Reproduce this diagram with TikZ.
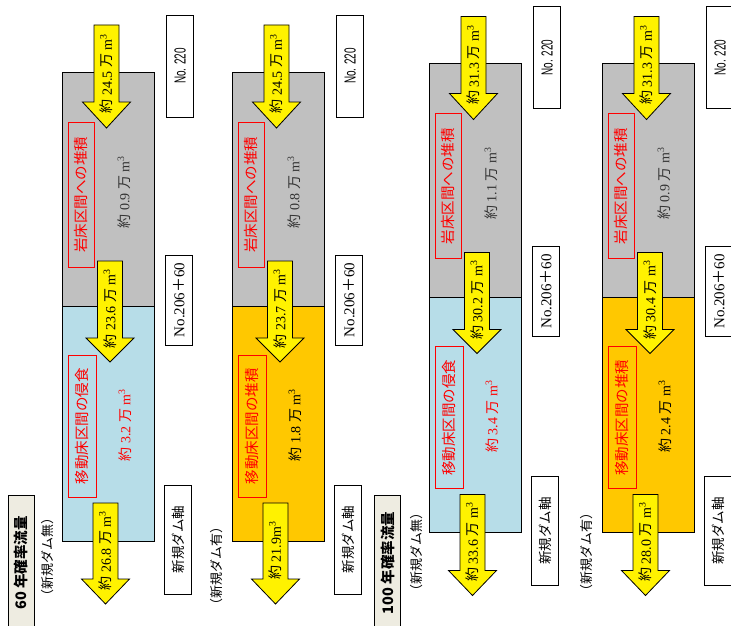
\documentclass[tikz,border=0pt]{standalone}
\usepackage{fontspec}
\usepackage{graphicx}
\setmainfont{Liberation Serif}
\setsansfont{Liberation Sans}
\newfontfamily\jp{Noto Sans CJK JP}
\usetikzlibrary{positioning}

\definecolor{rockgray}{HTML}{C0C0C0}
\definecolor{bedblue}{HTML}{B7DDE8}
\definecolor{bedgold}{HTML}{FFC800}
\definecolor{labelbg}{HTML}{EEECE1}

% volume text: 約 x 万 m3
\newcommand\man[1]{{\jp 約} #1 {\jp 万} m\textsuperscript{3}}
% arrow: name, centre x, top, head start, tip, text
\newcommand\flowarrow[6]{%
  \filldraw[fill=yellow,draw=black,line width=0.8pt]
    (#2-12.5,#3) -- (#2+12.5,#3) -- (#2+12.5,#4) -- (#2+24,#4) -- (#2,#5)
    -- (#2-24,#4) -- (#2-12.5,#4) -- cycle;
  \node[vol] (#1) at (#2,{(#3+#5)/2-3}) {#6};}

\begin{document}
\begin{tikzpicture}[x=1pt,y=-1pt,
  vol/.style={rotate=90,inner sep=0pt,font=\fontsize{14}{14}\selectfont},
  redbox/.style={rotate=90,draw=red,line width=1pt,text=red,inner sep=0pt,
    font=\jp\fontsize{14.5}{14.5}\selectfont},
  tag/.style={rotate=90,draw=black,fill=white,inner sep=0pt,minimum height=27pt},
  head/.style={rotate=90,draw=black,fill=labelbg,inner sep=0pt,
    minimum width=136pt,minimum height=26pt,font=\jp\bfseries\fontsize{14.5}{14.5}\selectfont},
  case/.style={rotate=90,inner sep=0pt,font=\jp\fontsize{13}{13}\selectfont},
  bed/.style={draw=black,line width=0.8pt}]
\useasboundingbox (0,0) rectangle (731,626);
\clip (0,0) rectangle (731,626);

\foreach \p/\sx/\sy/\bedcol/\bedtxt/\volcol/\vu/\vd/\qin/\qmid/\qout in {
    A/0/0/bedblue/移動床区間の侵食/red/0.9/3.2/24.5/23.6/{\man{26.8}},
    B/170/0/bedgold/移動床区間の堆積/black/0.8/1.8/24.5/23.7/{{\jp 約} 21.9m\textsuperscript{3}},
    C/367/-8.5/bedblue/移動床区間の侵食/red/1.1/3.4/31.3/30.2/{\man{33.6}},
    D/540/-8.5/bedgold/移動床区間の堆積/black/0.9/2.4/31.3/30.4/{\man{28.0}}}{
  \begin{scope}[shift={(\sx,\sy)}]
    \draw[bed,fill=rockgray] (62,72) rectangle (154,306);
    \draw[bed,fill=\bedcol] (62,306) rectangle (154,541);
    \node[redbox,minimum width=145pt,minimum height=26pt] (rock\p) at (81,194.5) {岩床区間への堆積};
    \node[vol,text=black!80] (vu\p) at (124,192) {\man{\vu}};
    \node[redbox,minimum width=142pt,minimum height=28pt] (bed\p) at (82,426) {\bedtxt};
    \node[vol,text=\volcol] (vd\p) at (125,425) {\man{\vd}};
    \flowarrow{in\p}{106.5}{25}{102}{128}{\man{\qin}}
    \flowarrow{mid\p}{110}{261}{338}{362}{\man{\qmid}}
    \flowarrow{out\p}{105.5}{503}{579}{604}{\qout}
    \node[tag,minimum width=102pt] (no\p) at (180,66)
      {\sffamily\fontsize{16}{16}\selectfont\scalebox{0.62}[1]{No. 220}};
    \node[tag,minimum width=90pt] (nm\p) at (179,300)
      {\fontsize{15}{15}\selectfont No.206{\jp ＋}60};
    \node[tag,minimum width=109pt] (ax\p) at (178,539.5)
      {\jp\fontsize{13.5}{13.5}\selectfont 新規ダム軸};
  \end{scope}
}

\node[head] (h60) at (21,563) {60 年確率流量};
\node[head] (h100) at (387.5,563) {100 年確率流量};
\node[case] (cA) at (48,557) {（新規ダム無）};
\node[case] (cB) at (217,566) {（新規ダム有）};
\node[case] (cC) at (417,552) {（新規ダム無）};
\node[case] (cD) at (587,552) {（新規ダム有）};
\end{tikzpicture}
\end{document}
